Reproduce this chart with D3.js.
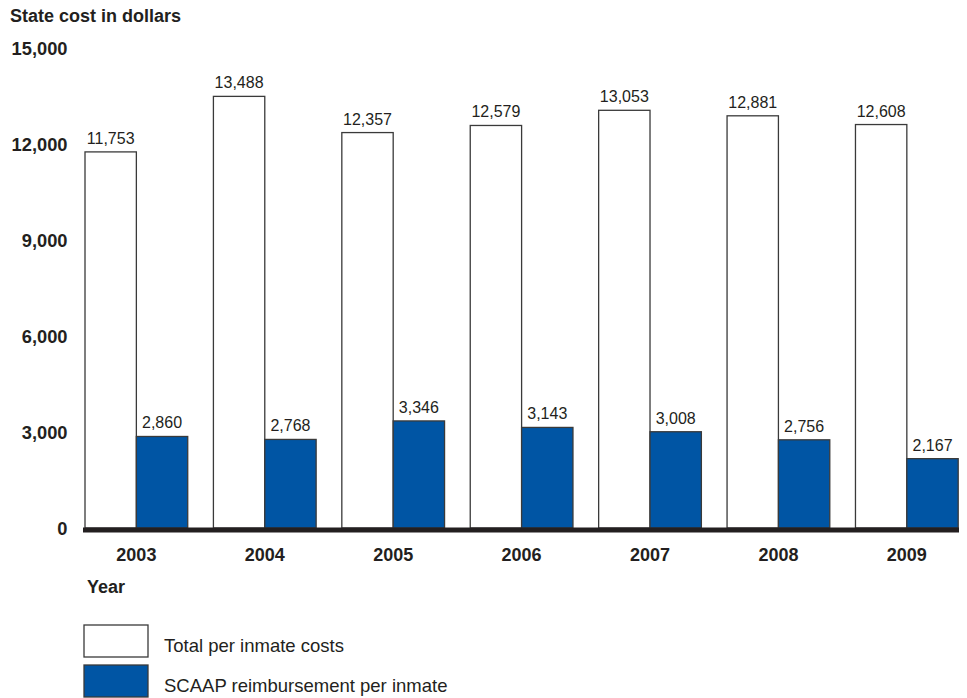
<!DOCTYPE html>
<html>
<head>
<meta charset="utf-8">
<script src="https://cdn.jsdelivr.net/npm/d3@7"></script>
<style>
  html, body { margin: 0; padding: 0; background: #fff; }
  svg { display: block; font-family: "Liberation Sans", Arial, Helvetica, sans-serif; }
</style>
</head>
<body>
<svg id="chart" width="967" height="698"></svg>
<script>
const years = ["2003", "2004", "2005", "2006", "2007", "2008", "2009"];
const totalCosts = [11753, 13488, 12357, 12579, 13053, 12881, 12608];
const scaapReimb = [2860, 2768, 3346, 3143, 3008, 2756, 2167];
const yTicks = [0, 3000, 6000, 9000, 12000, 15000];
const seriesNames = ["Total per inmate costs", "SCAAP reimbursement per inmate"];
const seriesColors = ["#ffffff", "#0055a4"];

const svg = d3.select("#chart");
const textColor = "#231f20";
const fmt = d3.format(",");

const y = d3.scaleLinear().domain([0, 15000]).range([528, 48]);
const x = d3.scaleBand().domain(years).range([85, 958.2]).paddingInner(0.2).paddingOuter(0);
const xs = d3.scaleBand().domain([0, 1]).range([0, x.bandwidth()]);

// Title
svg.append("text").attr("x", 10).attr("y", 22)
  .attr("font-size", 18).attr("font-weight", "bold").attr("fill", textColor)
  .text("State cost in dollars");

// Y axis labels
const yAxis = d3.axisLeft(y).tickValues(yTicks).tickFormat(fmt).tickSize(0).tickPadding(0);
const yg = svg.append("g").attr("transform", "translate(67.5,0)").call(yAxis);
yg.select(".domain").remove();
yg.selectAll("text").attr("font-size", 18.3).attr("font-weight", "bold")
  .attr("fill", textColor).attr("font-family", "Liberation Sans, Arial, sans-serif")
  .attr("dy", "0.36em");

// Bars
const groups = svg.append("g").selectAll("g").data(years).join("g")
  .attr("transform", d => `translate(${x(d)},0)`);

const seriesData = [totalCosts, scaapReimb];
seriesData.forEach((vals, si) => {
  groups.append("rect")
    .attr("x", xs(si))
    .attr("y", (d, i) => y(vals[i]))
    .attr("width", xs.bandwidth())
    .attr("height", (d, i) => y(0) - y(vals[i]))
    .attr("fill", seriesColors[si])
    .attr("stroke", "#3a3a3a")
    .attr("stroke-width", 1.3);
  groups.append("text")
    .attr("x", xs(si) + xs.bandwidth() / 2)
    .attr("y", (d, i) => y(vals[i]) - 8)
    .attr("text-anchor", "middle")
    .attr("font-size", 16)
    .attr("fill", textColor)
    .text((d, i) => fmt(vals[i]));
});

// Baseline
svg.append("line").attr("x1", 83).attr("x2", 959).attr("y1", y(0) + 2).attr("y2", y(0) + 2)
  .attr("stroke", "#231f20").attr("stroke-width", 5);

// X axis labels
const xAxis = d3.axisBottom(x).tickSize(0).tickPadding(0);
const xg = svg.append("g").attr("transform", "translate(0,561)").call(xAxis);
xg.select(".domain").remove();
xg.selectAll("text").attr("font-size", 18).attr("font-weight", "bold")
  .attr("fill", textColor).attr("font-family", "Liberation Sans, Arial, sans-serif")
  .attr("dy", 0);

svg.append("text").attr("x", 87).attr("y", 593)
  .attr("font-size", 18).attr("font-weight", "bold").attr("fill", textColor)
  .text("Year");

// Legend
const legend = svg.append("g");
seriesNames.forEach((name, i) => {
  const top = 625 + i * 40;
  legend.append("rect").attr("x", 84).attr("y", top).attr("width", 64).attr("height", 32)
    .attr("fill", seriesColors[i]).attr("stroke", "#3a3a3a").attr("stroke-width", 1.3);
  legend.append("text").attr("x", 164).attr("y", top + 26.5)
    .attr("font-size", 18.5).attr("fill", textColor).text(name);
});
</script>
</body>
</html>
